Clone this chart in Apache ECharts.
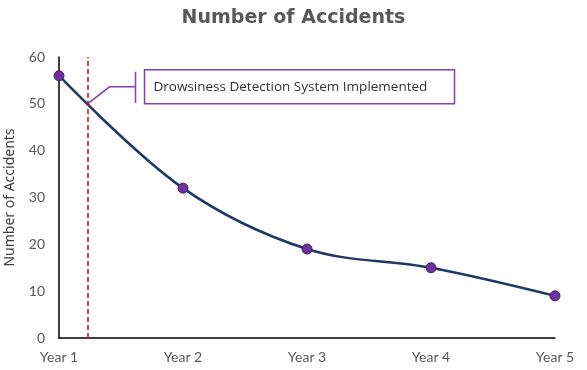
<!DOCTYPE html>
<html><head><meta charset="utf-8">
<script src="https://cdn.jsdelivr.net/npm/echarts@6/dist/echarts.min.js"></script>
<style>html,body{margin:0;padding:0;background:#fff}#c{width:587px;height:370px}</style>
</head><body><div id="c"></div>
<script>
const categories = ['Year 1','Year 2','Year 3','Year 4','Year 5'];
const accidents = [56, 32, 19, 15, 9];
const yTicks = [0, 10, 20, 30, 40, 50, 60];
const eventX = 0.23;      // position between Year 1 and Year 2 (in category units)
const eventY = 50;
const eventText = 'Drowsiness Detection System Implemented';

const chart = echarts.init(document.getElementById('c'));
const purple = '#7F3FBF';
chart.setOption({
  animation: false,
  title: {
    text: 'Number of Accidents', left: 'center', top: 4,
    textStyle: { fontFamily: 'DejaVu Sans', fontWeight: 'bold', fontSize: 19, color: '#595959' }
  },
  grid: { left: 59, right: 32, top: 57, bottom: 32, outerBoundsMode: 'none', containLabel: false },
  xAxis: {
    type: 'value', min: 0, max: categories.length - 1, interval: 1,
    axisLine: { show: true, lineStyle: { color: '#000', width: 1.5 } },
    axisTick: { show: false }, splitLine: { show: false },
    axisLabel: { formatter: v => categories[v] || '', color: '#595959', fontSize: 14, margin: 12, fontFamily: 'Lato' }
  },
  yAxis: {
    type: 'value', min: yTicks[0], max: yTicks[yTicks.length - 1], interval: 10,
    name: 'Number of Accidents', nameLocation: 'middle', nameGap: 42,
    nameTextStyle: { color: '#404040', fontSize: 14, fontFamily: 'Noto Sans' },
    axisLine: { show: true, lineStyle: { color: '#000', width: 1.5 } },
    axisTick: { show: false }, splitLine: { show: false },
    axisLabel: { color: '#595959', fontSize: 14, margin: 14, fontFamily: 'Lato' }
  },
  series: [{
    type: 'line', smooth: 0.35,
    data: accidents.map((v, i) => [i, v]),
    symbol: 'circle', symbolSize: 10,
    lineStyle: { color: '#1F3864', width: 2.5 },
    itemStyle: { color: '#7030A0', borderColor: '#3A1F66', borderWidth: 1 },
    markLine: {
      silent: true, symbol: 'none', label: { show: false },
      lineStyle: { color: '#D01010', type: [5, 3], width: 1.5 },
      data: [{ xAxis: eventX }]
    }
  }]
});

const p = chart.convertToPixel({ gridIndex: 0 }, [eventX, eventY]);
const bx = p[0] + 57, by = p[1] - 34;
chart.setOption({
  graphic: [
    { type: 'polyline', shape: { points: [[p[0], p[1]], [p[0] + 22, p[1] - 17], [p[0] + 48, p[1] - 17]] },
      style: { stroke: purple, lineWidth: 1.5, fill: null } },
    { type: 'line', shape: { x1: p[0] + 48, y1: p[1] - 32, x2: p[0] + 48, y2: p[1] - 1 },
      style: { stroke: purple, lineWidth: 1.5 } },
    { type: 'rect', shape: { x: bx, y: by, width: 310, height: 34 },
      style: { stroke: purple, lineWidth: 1.5, fill: '#fff' } },
    { type: 'text', x: bx + 9, y: by + 17,
      style: { text: eventText, fill: '#333', font: '13.5px "Open Sans"', verticalAlign: 'middle' } }
  ]
});
</script></body></html>
